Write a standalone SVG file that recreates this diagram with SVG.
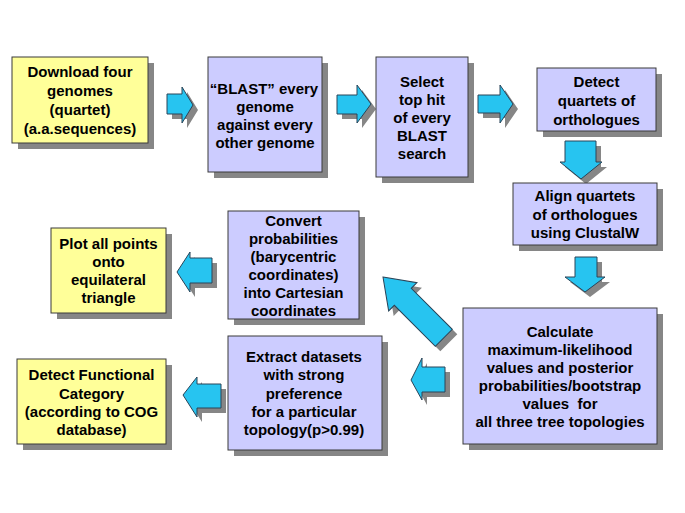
<svg xmlns="http://www.w3.org/2000/svg" width="685" height="513" viewBox="0 0 685 513">
<defs>
<style>
.bg{fill:#ffffff}
.sh{fill:#868686}
.y{fill:#ffff99;stroke:#3a3a3a;stroke-width:1}
.p{fill:#ccccff;stroke:#3a3a3a;stroke-width:1}
.a{fill:#27c4f0;stroke:#2a4458;stroke-width:1;stroke-linejoin:miter}
.ash{fill:#868686}
text{font-family:"Liberation Sans",Arial,sans-serif;font-weight:bold;font-size:15px;fill:#000000;text-anchor:middle}
</style>
<polygon id="ar" points="0,-10 15,-10 15,-18 26,0 15,18 15,10 0,10"/>
</defs>
<rect class="bg" x="0" y="0" width="685" height="513"/>

<g id="connectors">
  <g id="c1"><polygon class="ash" points="172,99 187,99 187,92 198,110 187,128 187,119 172,119"/><polygon class="a" points="167,94 182,94 182,87 193,105 182,123 182,114 167,114"/></g>
  <g id="c2"><polygon class="ash" points="342,100 362,100 362,90 376,109 362,128 362,119 342,119"/><polygon class="a" points="337,95 357,95 357,85 371,104 357,123 357,114 337,114"/></g>
  <g id="c3"><polygon class="ash" points="483,100 505,100 505,90 518,109 505,128 505,118 483,118"/><polygon class="a" points="478,95 500,95 500,85 513,104 500,123 500,113 478,113"/></g>
  <g id="c4"><polygon class="ash" points="570,146 601,146 601,167 607,167 586,184 565,167 570,167"/><polygon class="a" points="565,141 596,141 596,162 602,162 581,179 560,162 565,162"/></g>
  <g id="c5"><polygon class="ash" points="580,262 602,262 602,282 610,282 590,297 570,282 580,282"/><polygon class="a" points="575,257 597,257 597,277 605,277 585,292 565,277 575,277"/></g>
  <g id="c6"><polygon class="ash" transform="translate(388,282) rotate(45)" points="0,0 28,-20 28,-12 86,-12 86,12 28,12 28,20"/><polygon class="a" transform="translate(383,277) rotate(45)" points="0,0 28,-20 28,-12 86,-12 86,12 28,12 28,20"/></g>
  <g id="c7"><polygon class="ash" points="416,385 427,363 427,372 450,372 450,397 427,397 427,405"/><polygon class="a" points="411,380 422,358 422,367 445,367 445,392 422,392 422,400"/></g>
  <g id="c8"><polygon class="ash" points="182,277 195,257 195,263 217,263 217,288 195,288 195,297"/><polygon class="a" points="177,272 190,252 190,258 212,258 212,283 190,283 190,292"/></g>
  <g id="c9"><polygon class="ash" points="188,400 202,382 202,389 226,389 226,413 202,413 202,422"/><polygon class="a" points="183,395 197,377 197,384 221,384 221,408 197,408 197,417"/></g>
</g>

<g id="n1"><rect class="sh" x="18" y="63" width="136" height="86"/><rect class="y" x="12" y="57" width="136" height="86"/>
<text x="80" y="77">Download four</text><text x="80" y="96">genomes</text><text x="80" y="115">(quartet)</text><text x="80" y="134">(a.a.sequences)</text></g>

<g id="n2"><rect class="sh" x="214" y="63" width="114" height="115"/><rect class="p" x="208" y="57" width="114" height="115"/>
<text x="264" y="94">“BLAST” every</text><text x="265" y="112">genome</text><text x="265" y="130">against every</text><text x="265" y="148">other genome</text></g>

<g id="n3"><rect class="sh" x="382" y="63" width="92" height="120"/><rect class="p" x="376" y="57" width="92" height="120"/>
<text x="422" y="87">Select</text><text x="422" y="105">top hit</text><text x="422" y="123">of every</text><text x="422" y="141">BLAST</text><text x="422" y="159">search</text></g>

<g id="n4"><rect class="sh" x="543" y="74" width="119" height="63"/><rect class="p" x="537" y="68" width="119" height="63"/>
<text x="596.5" y="87">Detect</text><text x="596.5" y="106">quartets of</text><text x="596.5" y="125">orthologues</text></g>

<g id="n5"><rect class="sh" x="519" y="189" width="144" height="62"/><rect class="p" x="513" y="183" width="144" height="62"/>
<text x="585" y="201">Align quartets</text><text x="585" y="220">of orthologues</text><text x="585" y="238">using ClustalW</text></g>

<g id="n6"><rect class="sh" x="469" y="314" width="194" height="136"/><rect class="p" x="463" y="308" width="194" height="136"/>
<text x="560" y="337">Calculate</text><text x="560" y="355">maximum-likelihood</text><text x="560" y="373">values and posterior</text><text x="560" y="391">probabilities/bootstrap</text><text x="560" y="409" xml:space="preserve" style="white-space:pre">values  for</text><text x="560" y="427">all three tree topologies</text></g>

<g id="n7"><rect class="sh" x="234" y="217" width="131" height="108"/><rect class="p" x="228" y="211" width="131" height="108"/>
<text x="293.5" y="226">Convert</text><text x="293.5" y="244">probabilities</text><text x="293.5" y="262">(barycentric</text><text x="293.5" y="280">coordinates)</text><text x="293.5" y="298">into Cartesian</text><text x="293.5" y="316">coordinates</text></g>

<g id="n8"><rect class="sh" x="57" y="234" width="115" height="85"/><rect class="y" x="51" y="228" width="115" height="85"/>
<text x="108.5" y="249">Plot all points</text><text x="108.5" y="267">onto</text><text x="108.5" y="285">equilateral</text><text x="108.5" y="303">triangle</text></g>

<g id="n9"><rect class="sh" x="234" y="342" width="154" height="114"/><rect class="p" x="228" y="336" width="154" height="114"/>
<text x="304" y="362">Extract datasets</text><text x="304" y="380">with strong</text><text x="304" y="398.5">preference</text><text x="304" y="416.5">for a particular</text><text x="304" y="435">topology(p&gt;0.99)</text></g>

<g id="n10"><rect class="sh" x="23" y="365" width="149" height="85"/><rect class="y" x="17" y="359" width="149" height="85"/>
<text x="91.5" y="380">Detect Functional</text><text x="91.5" y="398.5">Category</text><text x="91.5" y="417">(according to COG</text><text x="91.5" y="435">database)</text></g>
</svg>
